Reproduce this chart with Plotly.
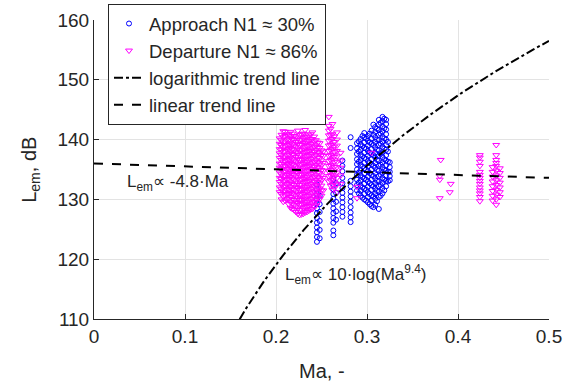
import numpy as np
import plotly.graph_objects as go

# ---- measured emission levels, grouped by Mach number -------------------
# Approach (N1 ~ 30 %): (Ma, [L_em values in dB])
approach_columns = [
    (0.245, [122.9, 123.7, 124.5, 125.3, 126.1, 126.9, 127.7, 128.5, 129.3, 130.1, 130.9, 131.7, 132.5]),
    (0.248, [123.5, 124.9, 126.4, 127.9, 129.2, 130.6]),
    (0.263, [124.0, 124.8, 126.1, 126.9, 127.7, 128.5, 129.3, 130.1, 130.9, 131.7, 132.5, 133.4]),
    (0.266, [126.6, 128.0, 129.6, 131.1, 132.7]),
    (0.273, [127.1, 127.9, 128.7, 129.5, 130.3, 131.1, 131.9, 132.7, 133.6, 134.7, 135.6, 136.5]),
    (0.282, [126.2, 127.0, 127.8, 128.7, 129.6, 130.5, 131.3, 132.2, 133.1, 138.6, 140.4]),
    (0.289, [131.5, 132.4, 133.3, 134.1, 135.0, 135.9, 136.7, 137.6, 138.5, 139.4]),
    (0.291, [131.0, 132.8, 134.5, 136.3, 138.0, 139.7]),
    (0.293, [130.6, 131.5, 132.3, 133.2, 134.0, 134.9, 135.8, 136.6, 137.5, 138.3, 139.2, 140.1]),
    (0.295, [130.3, 132.0, 133.7, 135.5, 137.2, 138.9, 140.6]),
    (0.297, [130.0, 130.9, 131.8, 132.6, 133.5, 134.3, 135.2, 136.1, 136.9, 137.8, 138.6, 139.5, 140.4, 141.1]),
    (0.299, [129.8, 131.6, 133.3, 135.0, 136.8, 138.5, 140.2]),
    (0.301, [129.5, 130.4, 131.2, 132.1, 133.0, 133.8, 134.7, 135.5, 136.4, 137.3, 138.1, 139.0, 139.8, 140.6]),
    (0.303, [129.2, 130.9, 132.7, 134.4, 136.1, 137.8, 139.5, 141.0]),
    (0.305, [128.9, 129.8, 130.7, 131.6, 132.4, 133.3, 134.1, 135.0, 135.9, 136.7, 137.6, 138.4, 139.3, 140.2, 141.5]),
    (0.307, [128.7, 130.5, 132.2, 133.9, 135.6, 137.4, 139.1, 140.8, 142.5]),
    (0.309, [129.1, 130.1, 131.0, 131.8, 132.7, 133.5, 134.4, 135.3, 136.1, 137.0, 137.8, 138.7, 139.6, 140.4, 141.3, 142.1]),
    (0.311, [129.7, 131.4, 133.1, 134.9, 136.6, 138.3, 140.0, 141.8]),
    (0.313, [128.4, 130.4, 131.3, 132.2, 133.0, 133.9, 134.8, 135.6, 136.5, 137.3, 138.2, 139.1, 139.9, 140.8, 141.6, 142.5, 143.3]),
    (0.315, [130.6, 132.4, 134.1, 135.8, 137.6, 139.3, 141.0, 142.8]),
    (0.317, [131.0, 131.9, 132.8, 133.6, 134.5, 135.4, 136.2, 137.1, 137.9, 138.8, 139.7, 140.5, 141.4, 142.2, 143.1, 143.8]),
    (0.319, [131.5, 133.3, 135.0, 136.7, 138.5, 140.2, 141.9, 143.5]),
    (0.321, [132.2, 133.1, 134.0, 134.8, 135.7, 136.5, 137.4, 138.3, 139.1, 140.0, 140.9, 141.7, 142.6, 143.3]),
    (0.323, [133.0, 134.6, 136.3, 138.0, 139.6]),
    (0.325, [133.2, 133.9, 134.6, 135.4, 136.2]),
]

# Departure (N1 ~ 86 %): (Ma, [L_em values in dB])
departure_columns = [
    (0.204, [131.2, 132.0, 132.9, 133.6, 134.5, 135.3, 136.0, 136.9, 137.7, 138.4, 139.3, 140.2]),
    (0.206, [130.0, 130.9, 131.7, 132.6, 133.4, 134.2, 135.1, 135.9, 136.6, 137.4, 138.3, 139.1, 139.9, 140.8]),
    (0.208, [129.6, 130.5, 131.3, 132.1, 133.0, 133.8, 134.6, 135.5, 136.2, 137.0, 137.9, 138.7, 139.5, 140.4, 141.4]),
    (0.210, [129.8, 130.7, 131.5, 132.3, 133.2, 134.0, 134.8, 135.6, 136.4, 137.2, 138.1, 138.9, 139.7, 140.6, 141.3]),
    (0.212, [130.0, 130.9, 131.6, 132.5, 133.3, 134.1, 135.0, 135.8, 136.6, 137.4, 138.3, 139.1, 140.0, 140.8]),
    (0.214, [129.2, 130.1, 130.9, 131.7, 132.6, 133.4, 134.2, 135.1, 135.9, 136.7, 137.5, 138.4, 139.2, 140.0, 140.9]),
    (0.216, [128.6, 129.5, 130.4, 131.1, 132.0, 132.8, 133.7, 134.4, 135.3, 136.1, 136.9, 137.8, 138.6, 139.4, 140.3, 141.3]),
    (0.218, [128.4, 129.3, 130.1, 131.0, 131.8, 132.6, 133.5, 134.3, 135.1, 135.9, 136.8, 137.6, 138.4, 139.3, 140.1, 141.0]),
    (0.220, [128.2, 129.1, 129.9, 130.8, 131.6, 132.4, 133.3, 134.1, 134.9, 135.7, 136.5, 137.4, 138.2, 139.0, 139.9, 140.6]),
    (0.222, [127.9, 128.8, 129.6, 130.5, 131.3, 132.1, 133.0, 133.8, 134.6, 135.5, 136.3, 137.1, 137.9, 138.8, 139.6, 140.5]),
    (0.224, [127.6, 128.5, 129.4, 130.2, 131.0, 131.9, 132.7, 133.5, 134.4, 135.2, 136.0, 136.8, 137.7, 138.5, 139.3, 140.2, 141.5]),
    (0.226, [127.4, 128.2, 129.1, 129.9, 130.7, 131.6, 132.4, 133.2, 134.1, 134.9, 135.7, 136.6, 137.4, 138.2, 139.1, 139.9, 140.8]),
    (0.228, [127.5, 128.3, 129.2, 130.0, 130.9, 131.7, 132.5, 133.4, 134.2, 135.0, 135.9, 136.7, 137.5, 138.3, 139.2, 140.0, 140.9]),
    (0.230, [127.6, 128.5, 129.3, 130.1, 131.0, 131.8, 132.7, 133.5, 134.3, 135.2, 136.0, 136.8, 137.7, 138.5, 139.4, 140.2, 141.0]),
    (0.232, [127.8, 128.7, 129.5, 130.3, 131.2, 132.0, 132.9, 133.7, 134.5, 135.4, 136.2, 137.0, 137.9, 138.7, 139.5, 140.4, 141.6]),
    (0.234, [127.9, 128.8, 129.6, 130.5, 131.3, 132.1, 133.0, 133.8, 134.7, 135.5, 136.3, 137.2, 138.0, 138.9, 139.7, 140.5]),
    (0.236, [128.1, 128.9, 129.8, 130.6, 131.5, 132.3, 133.1, 134.0, 134.8, 135.6, 136.5, 137.3, 138.1, 139.0, 139.8, 140.7]),
    (0.238, [128.3, 129.1, 130.0, 130.8, 131.7, 132.5, 133.3, 134.2, 135.0, 135.8, 136.7, 137.5, 138.3, 139.2, 140.0, 140.9]),
    (0.240, [128.4, 129.3, 130.1, 131.0, 131.8, 132.6, 133.5, 134.3, 135.1, 136.0, 136.8, 137.6, 138.5, 139.3, 140.1, 141.2]),
    (0.242, [128.8, 129.6, 130.5, 131.3, 132.2, 133.0, 133.8, 134.7, 135.5, 136.3, 137.2, 138.0, 138.8, 139.7, 140.5]),
    (0.244, [129.0, 129.9, 130.7, 131.5, 132.4, 133.2, 134.0, 134.9, 135.7, 136.5, 137.4, 138.2, 139.0, 139.9]),
    (0.246, [129.5, 130.3, 131.2, 132.0, 132.9, 133.7, 134.5, 135.4, 136.2, 137.0, 137.9, 138.7, 139.5]),
    (0.248, [130.1, 131.0, 131.8, 132.7, 133.5, 134.4, 135.2, 136.0, 136.9, 137.7, 138.6, 139.4]),
    (0.250, [130.6, 131.5, 132.3, 133.2, 134.0, 134.9, 135.7, 136.5, 137.4, 138.2]),
    (0.252, [131.5, 133.6, 134.8, 136.1, 137.3, 138.0]),
    (0.258, [133.0, 133.9, 134.7, 135.6, 136.4, 137.3, 138.1, 139.0, 139.8, 140.7, 141.5, 142.3, 143.8]),
    (0.260, [132.3, 133.2, 134.0, 134.9, 135.7, 136.6, 137.4, 138.3, 139.1, 140.0, 140.8, 141.8]),
    (0.262, [131.6, 132.4, 133.3, 134.1, 135.0, 135.8, 136.7, 137.5, 138.4, 139.2, 140.1, 140.9, 142.6]),
    (0.264, [131.9, 132.8, 133.7, 134.5, 135.4, 136.2, 137.1, 137.9, 138.8, 139.6, 140.5]),
    (0.267, [131.2, 132.5, 133.6, 134.5, 135.4, 136.3, 137.2, 138.1, 139.0, 140.0, 141.2]),
    (0.271, [132.6, 134.0, 135.3, 136.5, 137.8]),
    (0.289, [130.2, 132.1]),
    (0.305, [137.8]),
    (0.380, [130.2, 133.3, 133.9]),
    (0.381, [136.6]),
    (0.391, [131.2]),
    (0.392, [132.6]),
    (0.424, [129.7, 130.4, 131.0, 131.5, 132.0, 132.6, 133.1, 133.6, 134.1, 134.6, 135.6, 136.3, 137.0, 137.4]),
    (0.438, [129.8, 130.6, 131.4, 132.2, 133.0, 133.8, 134.6, 135.4]),
    (0.442, [129.1, 130.0, 130.8, 131.6, 132.4, 133.2, 134.0, 134.8, 135.6, 136.1, 136.6, 137.4, 139.1]),
    (0.446, [130.4, 131.2, 132.0, 132.8, 133.6, 134.4, 135.2]),
]

# Trend line coefficients
LIN_INTERCEPT = 136.0   # dB at Ma = 0
LIN_SLOPE = -4.8        # dB per unit Ma
LOG_OFFSET = 184.8      # dB
LOG_EXPONENT = 9.4      # L = offset + 10*log10(Ma^exponent)

x_ticks = [0, 0.1, 0.2, 0.3, 0.4, 0.5]
y_ticks = [110, 120, 130, 140, 150, 160]


def flatten(columns):
    xs, ys = [], []
    for ma, levels in columns:
        xs.extend([ma] * len(levels))
        ys.extend(levels)
    return xs, ys


app_x, app_y = flatten(approach_columns)
dep_x, dep_y = flatten(departure_columns)

ma_line = np.linspace(0.0, 0.5, 201)
lin_line = LIN_INTERCEPT + LIN_SLOPE * ma_line
ma_log = np.linspace(0.15, 0.5, 201)
log_line = LOG_OFFSET + 10 * np.log10(ma_log ** LOG_EXPONENT)

FONT = "Liberation Sans, Arial, Helvetica, sans-serif"
INK = "#262626"

fig = go.Figure()
fig.add_trace(go.Scatter(
    x=app_x, y=app_y, mode="markers", name="Approach N1 \u2248 30%",
    marker=dict(symbol="circle-open", size=5, color="#0000ff", line=dict(width=1)),
))
fig.add_trace(go.Scatter(
    x=dep_x, y=dep_y, mode="markers", name="Departure N1 \u2248 86%",
    marker=dict(symbol="triangle-down-open", size=6, color="#ff00ff", line=dict(width=1)),
))
fig.add_trace(go.Scatter(
    x=ma_log, y=log_line, mode="lines", name="logarithmic trend line",
    line=dict(color="black", width=2, dash="dashdot"),
))
fig.add_trace(go.Scatter(
    x=ma_line, y=lin_line, mode="lines", name="linear trend line",
    line=dict(color="black", width=2, dash="dash"),
))

# Trend line labels
fig.add_annotation(
    x=0.034, y=132.7, xref="x", yref="y", xanchor="left", yanchor="middle",
    text="L<sub>em</sub>\u221d -4.8\u00b7Ma", showarrow=False,
    font=dict(family=FONT, size=17, color=INK),
)
fig.add_annotation(
    x=0.2075, y=117.4, xref="x", yref="y", xanchor="left", yanchor="middle",
    text="L<sub>em</sub>\u221d 10\u00b7log(Ma<sup>9.4</sup>)", showarrow=False,
    font=dict(family=FONT, size=17, color=INK),
)

# Axis titles
fig.add_annotation(
    x=-0.14, y=0.5, xref="paper", yref="paper", xanchor="center", yanchor="middle",
    text="L<sub>em</sub>, dB", textangle=-90, showarrow=False,
    font=dict(family=FONT, size=20, color=INK),
)
fig.add_annotation(
    x=0.5, y=-0.174, xref="paper", yref="paper", xanchor="center", yanchor="middle",
    text="Ma, -", showarrow=False,
    font=dict(family=FONT, size=20, color=INK),
)

axis_common = dict(
    showline=True, linecolor=INK, linewidth=1, mirror=False,
    ticks="inside", ticklen=5, tickcolor=INK, tickwidth=1,
    showgrid=True, gridcolor="#e3e3e3", gridwidth=1, zeroline=False,
    tickfont=dict(family=FONT, size=19, color=INK),
    automargin=False,
)

fig.update_xaxes(
    range=[0, 0.5], tickvals=x_ticks, ticktext=[f"{v:g}" for v in x_ticks],
    **axis_common,
)
fig.update_yaxes(
    range=[110, 160], tickvals=y_ticks,
    **axis_common,
)

fig.update_layout(
    width=564, height=390,
    margin=dict(l=94, r=15, t=20, b=71, autoexpand=False),
    paper_bgcolor="white", plot_bgcolor="white",
    font=dict(family=FONT, color=INK),
    showlegend=True,
    legend=dict(
        xref="container", yref="container",
        x=108 / 564, y=1 - 4 / 390, xanchor="left", yanchor="top",
        bgcolor="white", bordercolor=INK, borderwidth=1,
        font=dict(family=FONT, size=18.5, color=INK),
        tracegroupgap=0, itemsizing="trace",
    ),
)

fig.write_html("out.html")
